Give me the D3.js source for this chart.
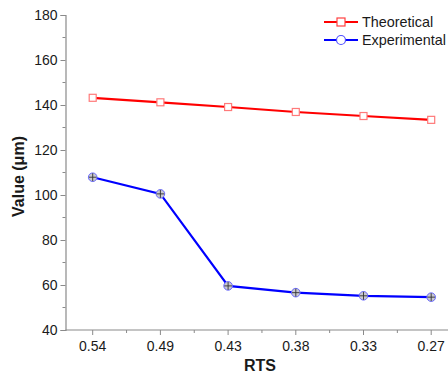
<!DOCTYPE html>
<html>
<head>
<meta charset="utf-8">
<script src="https://cdn.jsdelivr.net/npm/d3@7"></script>
<style>
html,body{margin:0;padding:0;background:#fff;}
svg{display:block;font-family:Arial,"Liberation Sans",sans-serif;}
</style>
</head>
<body>
<svg id="chart" width="448" height="378"></svg>
<script>
const categories = ["0.54","0.49","0.43","0.38","0.33","0.27"];
const theoretical = [143.2,141.2,139.1,136.9,135.1,133.4];
const experimental = [107.9,100.5,59.6,56.6,55.2,54.6];
const yTicks = [40,60,80,100,120,140,160,180];
const seriesNames = ["Theoretical","Experimental"];

(function(){
const svg = d3.select("#chart");
const mLeft = 65.5, mBottom = 330, mTop = 15, mRight = 448;
const step = 67.7;
const x0 = 92.7;
const xIdx = d3.scaleLinear().domain([0,5]).range([x0, x0 + 5*step]);
const y = d3.scaleLinear().domain([40,180]).range([mBottom, mTop]);
const axisColor = "#8a8a8a";
const textColor = "#1a1a1a";
const ff = "Arial, 'Liberation Sans', sans-serif";

// Y axis
const yAxis = d3.axisLeft(y).tickValues(yTicks).tickSize(5).tickPadding(3).tickFormat(d3.format("d"));
const gy = svg.append("g").attr("transform", `translate(${mLeft},0)`).call(yAxis);
gy.select(".domain").attr("stroke", axisColor).attr("stroke-width",1.2);
gy.selectAll(".tick line").attr("stroke", axisColor);
gy.selectAll(".tick text").attr("fill", textColor).style("font-size","14px").style("font-family",ff);
// minor y ticks
const yMinor = d3.range(50,180,20);
svg.append("g").selectAll("line").data(yMinor).join("line")
  .attr("x1", mLeft-3).attr("x2", mLeft).attr("y1", d=>y(d)).attr("y2", d=>y(d))
  .attr("stroke", axisColor);

// X axis
svg.append("line").attr("x1", mLeft).attr("x2", mRight).attr("y1", mBottom).attr("y2", mBottom)
  .attr("stroke", axisColor).attr("stroke-width",1.2);
const gx = svg.append("g");
gx.selectAll("line.major").data(categories).join("line").attr("class","major")
  .attr("x1",(d,i)=>xIdx(i)).attr("x2",(d,i)=>xIdx(i)).attr("y1",mBottom).attr("y2",mBottom+5)
  .attr("stroke",axisColor);
gx.selectAll("line.minor").data(d3.range(0,6)).join("line").attr("class","minor")
  .attr("x1",d=>xIdx(d+0.5)).attr("x2",d=>xIdx(d+0.5)).attr("y1",mBottom).attr("y2",mBottom+3)
  .attr("stroke",axisColor);
gx.selectAll("text").data(categories).join("text")
  .attr("x",(d,i)=>xIdx(i)).attr("y",mBottom+21).attr("text-anchor","middle")
  .attr("fill",textColor).style("font-size","14px").text(d=>d);

// axis titles
svg.append("text").attr("x",260).attr("y",371).attr("text-anchor","middle")
  .attr("font-weight","bold").style("font-size","16px").attr("fill",textColor).text("RTS");
svg.append("text").attr("transform","translate(24,176.5) rotate(-90)").attr("text-anchor","middle")
  .attr("font-weight","bold").style("font-size","16px").attr("fill",textColor).text("Value (μm)");

const line = d3.line().x((d,i)=>xIdx(i)).y(d=>y(d));

// Theoretical
svg.append("path").datum(theoretical).attr("d",line).attr("fill","none")
  .attr("stroke","#ff0000").attr("stroke-width",2.2);
svg.append("g").selectAll("rect").data(theoretical).join("rect")
  .attr("x",(d,i)=>xIdx(i)-3.5).attr("y",d=>y(d)-3.5).attr("width",7).attr("height",7)
  .attr("fill","#fff").attr("stroke","#ff7a7a").attr("stroke-width",1.2);

// Experimental
svg.append("path").datum(experimental).attr("d",line).attr("fill","none")
  .attr("stroke","#0000ff").attr("stroke-width",2.2);
const eg = svg.append("g").selectAll("g").data(experimental).join("g")
  .attr("transform",(d,i)=>`translate(${xIdx(i)},${y(d)})`);
eg.append("circle").attr("r",4.3).attr("fill","#c8c8d0").attr("stroke","#6a6aff").attr("stroke-width",1);
eg.append("line").attr("x1",0).attr("x2",0).attr("y1",-4).attr("y2",4).attr("stroke","#333").attr("stroke-width",0.9);
eg.append("line").attr("x1",-3.8).attr("x2",3.8).attr("y1",0).attr("y2",0).attr("stroke","#333").attr("stroke-width",0.9);

// Legend
const leg = svg.append("g");
const legY = [22, 40];
const legColors = ["#ff0000","#0000ff"];
seriesNames.forEach((name,k)=>{
  leg.append("line").attr("x1",324).attr("x2",358).attr("y1",legY[k]).attr("y2",legY[k])
    .attr("stroke",legColors[k]).attr("stroke-width",2.2);
  if(k===0){
    leg.append("rect").attr("x",337).attr("y",legY[k]-4).attr("width",8).attr("height",8)
      .attr("fill","#fff").attr("stroke","#ff4040").attr("stroke-width",1.2);
  } else {
    leg.append("circle").attr("cx",341).attr("cy",legY[k]).attr("r",4.5)
      .attr("fill","#fff").attr("stroke","#5050ff").attr("stroke-width",1.2);
  }
  leg.append("text").attr("x",362).attr("y",legY[k]+5).attr("fill",textColor)
    .style("font-size","14.4px").text(name);
});
})();
</script>
</body>
</html>
